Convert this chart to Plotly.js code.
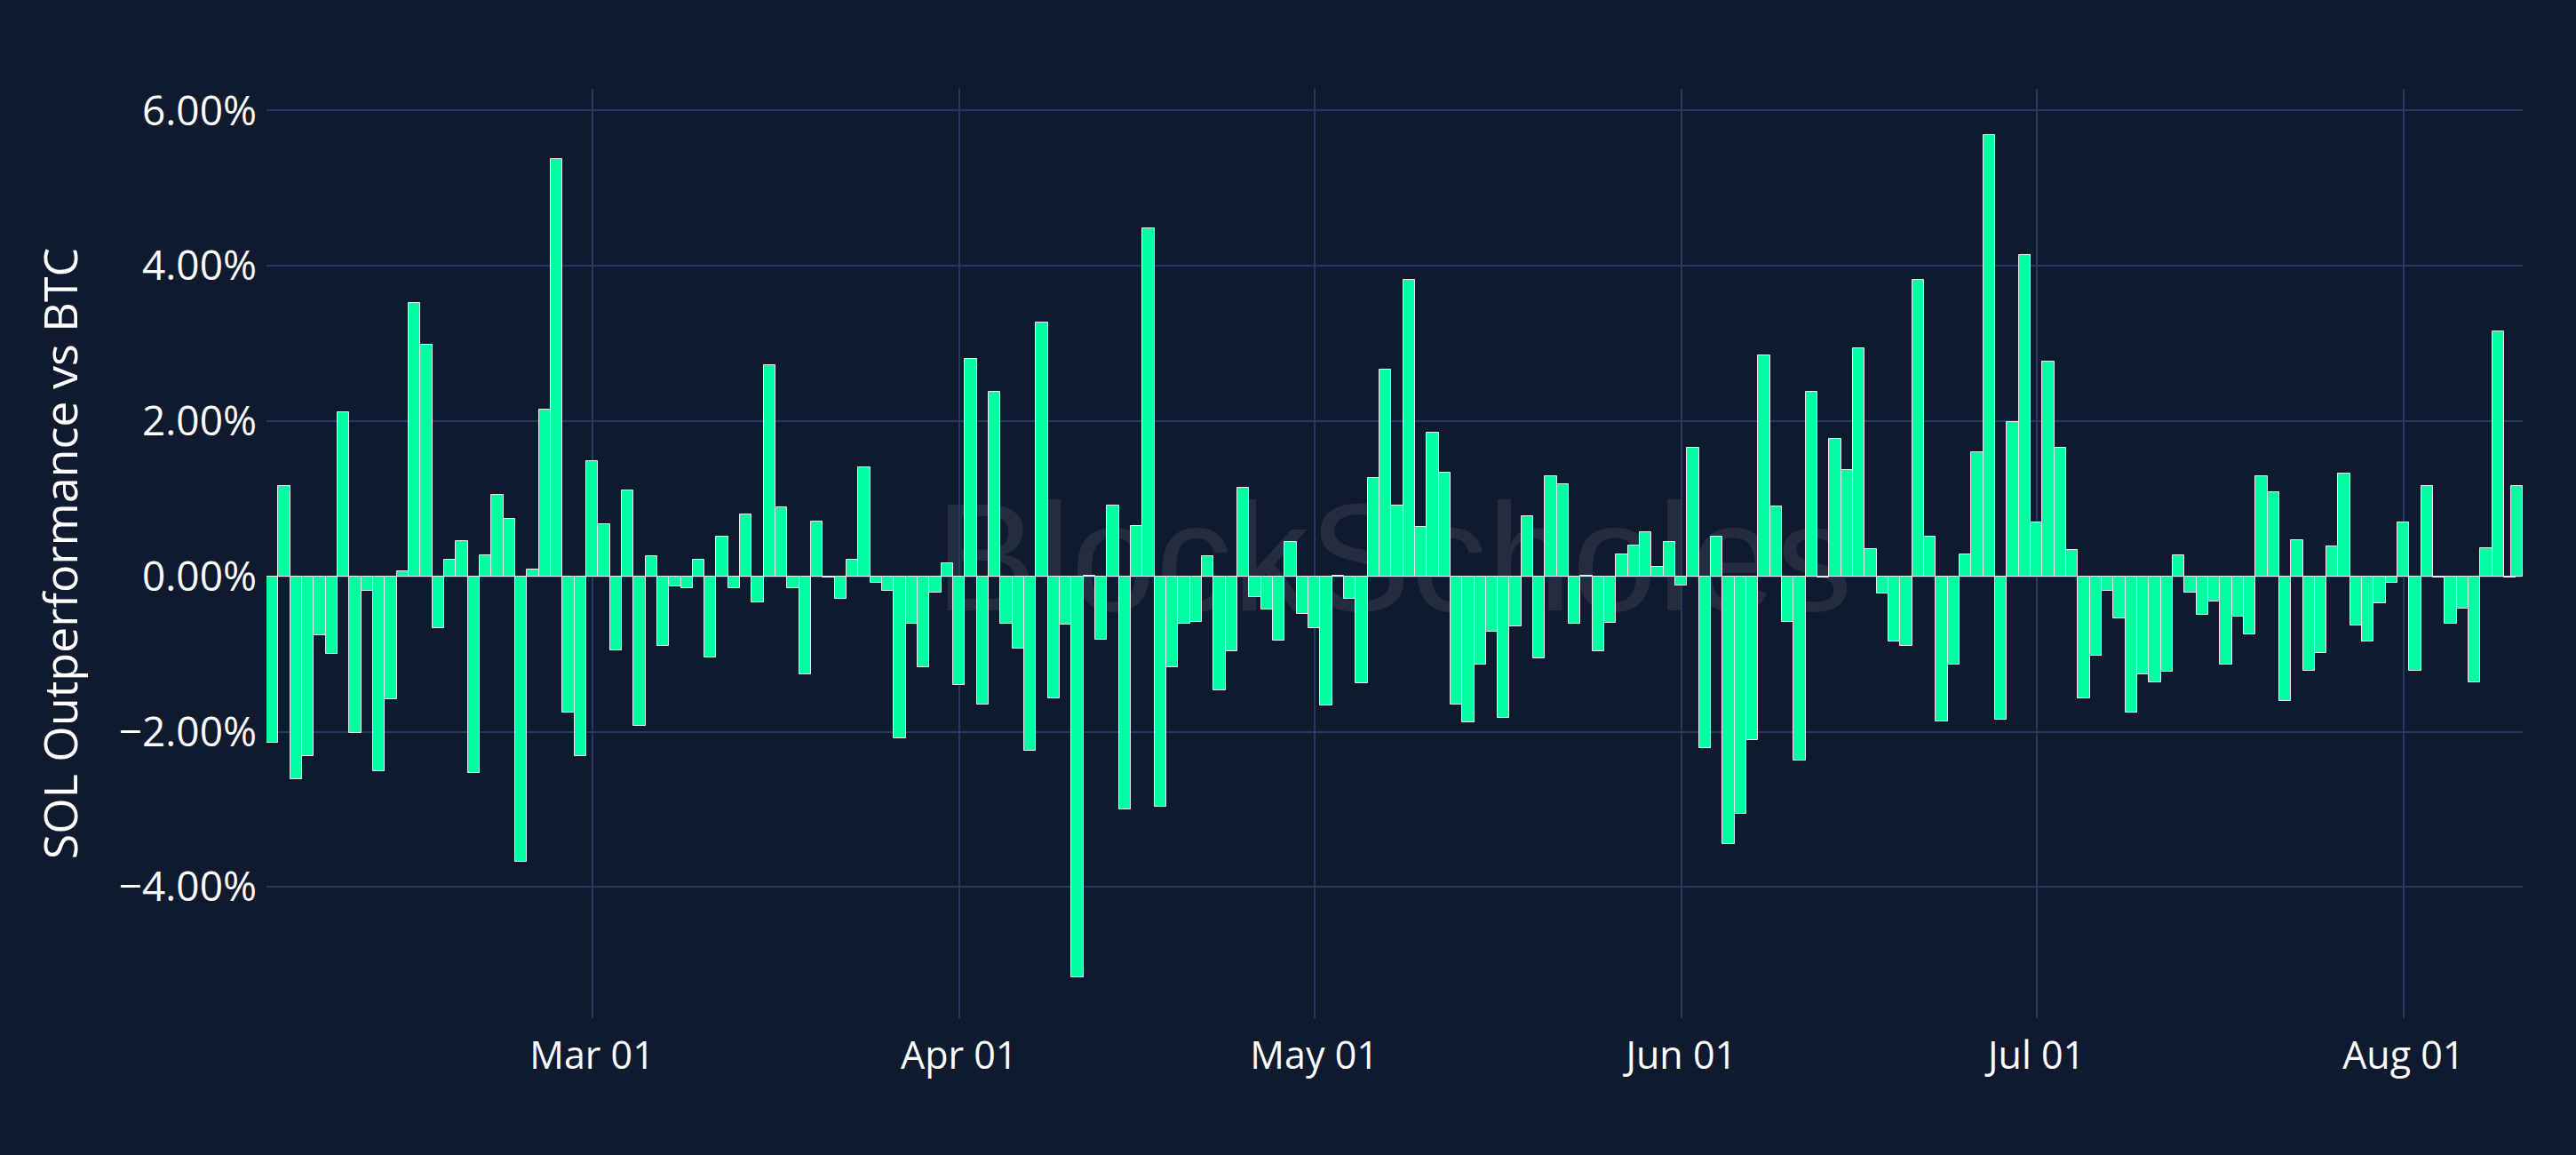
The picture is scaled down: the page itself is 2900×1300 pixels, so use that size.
<!DOCTYPE html>
<html>
<head>
<meta charset="utf-8">
<title>SOL Outperformance vs BTC</title>
<script src="https://cdn.plot.ly/plotly-3.0.1.min.js"></script>
<style>
    html, body {
        margin: 0;
        padding: 0;
        background: #101a2f;
        overflow: hidden;
    }
    #watermark {
        position: absolute;
        left: 1569px;
        top: 627px;
        transform: translate(-50%, -50%);
        font-family: "Liberation Sans", Arial, sans-serif;
        font-size: 172px;
        line-height: 1;
        color: rgba(255, 255, 255, 0.085);
        white-space: nowrap;
        z-index: 0;
        user-select: none;
    }
    #chart {
        position: absolute;
        left: 0;
        top: 0;
        width: 2900px;
        height: 1300px;
        z-index: 1;
    }
</style>
</head>
<body>
<div id="watermark">BlockScholes</div>
<div id="chart"></div>
<script>
// Daily SOL return minus BTC return, in percent
const monthStarts = ['2024-02-03', '2024-03-01', '2024-04-01', '2024-05-01',
                     '2024-06-01', '2024-07-01', '2024-08-01'];

const febValues = [-2.14, 1.17, -2.61, -2.31, -0.76, -1.00, 2.11, -2.02, -0.18, -2.51,
                   -1.58, 0.07, 3.52, 2.98, -0.67, 0.22, 0.46, -2.53, 0.27, 1.05,
                   0.74, -3.68, 0.09, 2.15, 5.38, -1.75, -2.31];
const marValues = [1.49, 0.67, -0.95, 1.11, -1.92, 0.26, -0.90, -0.13, -0.15, 0.22,
                   -1.04, 0.51, -0.15, 0.80, -0.34, 2.72, 0.89, -0.15, -1.26, 0.71,
                   -0.01, -0.29, 0.22, 1.41, -0.08, -0.18, -2.09, -0.61, -1.17, -0.21,
                   0.17];
const aprValues = [-1.40, 2.80, -1.65, 2.38, -0.61, -0.93, -2.25, 3.27, -1.57, -0.62,
                   -5.16, 0.01, -0.82, 0.91, -3.00, 0.65, 4.48, -2.97, -1.17, -0.61,
                   -0.59, 0.26, -1.47, -0.96, 1.14, -0.27, -0.43, -0.83, 0.44, -0.48];
const mayValues = [-0.67, -1.66, 0.01, -0.29, -1.38, 1.27, 2.66, 0.91, 3.82, 0.64,
                   1.85, 1.34, -1.65, -1.88, -1.13, -0.71, -1.82, -0.64, 0.77, -1.06,
                   1.29, 1.19, -0.61, 0.01, -0.96, -0.60, 0.28, 0.40, 0.57, 0.12,
                   0.44];
const junValues = [-0.12, 1.66, -2.21, 0.51, -3.45, -3.06, -2.11, 2.85, 0.90, -0.59,
                   -2.37, 2.38, -0.01, 1.77, 1.37, 2.94, 0.35, -0.22, -0.84, -0.90,
                   3.82, 0.51, -1.87, -1.13, 0.28, 1.60, 5.68, -1.85, 1.99, 4.14];
const julValues = [0.70, 2.77, 1.66, 0.34, -1.57, -1.02, -0.19, -0.54, -1.75, -1.26,
                   -1.36, -1.23, 0.27, -0.21, -0.50, -0.32, -1.13, -0.52, -0.75, 1.29,
                   1.09, -1.61, 0.47, -1.21, -0.99, 0.39, 1.32, -0.63, -0.84, -0.35,
                   -0.08];
const augValues = [0.70, -1.21, 1.16, -0.01, -0.61, -0.41, -1.36, 0.36, 3.16, -0.01];

// The latest (intraday) reading sits half a day after the last daily close
const lastStamp = '2024-08-10 13:40';
const lastValue = 1.17;

const yTickFormat = '.2f';
const yTickSuffix = '%';

/**
 * Consecutive daily dates starting at start, one per value
 */
function dailyDates(start, count) {
    const out = [];
    const d = new Date(start + 'T00:00:00Z');
    for (let i = 0; i < count; i++) {
        out.push(d.toISOString().slice(0, 10));
        d.setUTCDate(d.getUTCDate() + 1);
    }
    return out;
}

const monthValues = [febValues, marValues, aprValues, mayValues, junValues, julValues, augValues];

let dates = [];
let values = [];
monthValues.forEach((vals, i) => {
    dates = dates.concat(dailyDates(monthStarts[i], vals.length));
    values = values.concat(vals);
});
dates.push(lastStamp);
values.push(lastValue);

const DAY_MS = 86400000;

const trace = {
    type: 'bar',
    x: dates,
    y: values,
    width: DAY_MS,
    marker: {
        color: '#00ffa3',
        line: { color: '#e5ecf6', width: 1 }
    },
    hoverinfo: 'x+y'
};

const gridColor = '#263a5f';

const layout = {
    width: 2900,
    height: 1300,
    paper_bgcolor: 'rgba(0,0,0,0)',
    plot_bgcolor: 'rgba(0,0,0,0)',
    font: { family: '"Open Sans", verdana, arial, sans-serif', color: '#ffffff' },
    margin: { l: 300, r: 60, t: 100, b: 154 },
    showlegend: false,
    bargap: 0,
    xaxis: {
        type: 'date',
        tickformat: '%b %d',
        dtick: 'M1',
        tick0: '2024-03-01',
        showgrid: true,
        gridcolor: gridColor,
        gridwidth: 2,
        zeroline: false,
        showline: false,
        ticks: '',
        ticklabelstandoff: 13,
        tickfont: { size: 43, color: '#ffffff' }
    },
    yaxis: {
        range: [-5.69, 6.28],
        dtick: 2,
        tickformat: yTickFormat,
        ticksuffix: yTickSuffix,
        showgrid: true,
        gridcolor: gridColor,
        gridwidth: 2,
        zeroline: true,
        zerolinecolor: gridColor,
        zerolinewidth: 2,
        showline: false,
        ticks: '',
        ticklabelstandoff: 10,
        tickfont: { size: 46, color: '#ffffff' },
        title: {
            text: 'SOL Outperformance vs BTC',
            font: { size: 52, color: '#ffffff' },
            standoff: 29
        }
    }
};

Plotly.newPlot('chart', [trace], layout, { displayModeBar: false, responsive: false });
</script>
</body>
</html>
